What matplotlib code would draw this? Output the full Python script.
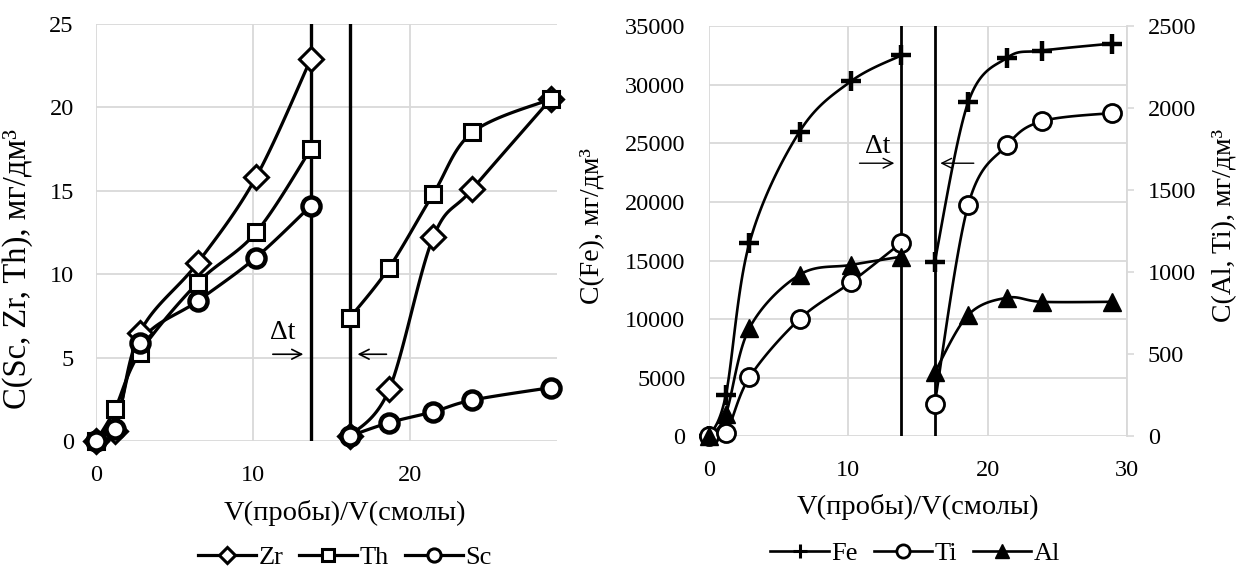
import numpy as np
import matplotlib.pyplot as plt
from matplotlib.lines import Line2D

plt.rcParams['font.family'] = ['Liberation Serif', 'DejaVu Serif']
plt.rcParams['font.size'] = 17.5

# ---- data (left panel) ----
v_left = [0, 1.2, 2.8, 6.5, 10.2, 13.7, 16.2, 18.7, 21.5, 24.0, 29.0]
zr = [0, 0.6, 6.5, 10.7, 15.8, 22.9, 0.3, 3.1, 12.2, 15.1, 20.5]
th = [0, 1.9, 5.3, 9.5, 12.5, 17.5, 7.4, 10.4, 14.8, 18.5, 20.5]
sc = [0, 0.7, 5.9, 8.4, 11.0, 14.1, 0.3, 1.1, 1.75, 2.45, 3.2]

# ---- data (right panel) ----
v_right = [0, 1.2, 2.9, 6.5, 10.2, 13.8, 16.2, 18.6, 21.4, 23.9, 28.9]
fe = [0, 3500, 16500, 26000, 30300, 32500, 14900, 28500, 32300, 32900, 33500]
ti = [0, 20, 360, 715, 940, 1180, 200, 1410, 1775, 1920, 1970]
al = [0, 135, 660, 985, 1045, 1095, 390, 740, 845, 820, 820]

breaks_left = [13.7, 16.2]
breaks_right = [13.8, 16.2]
SPLIT = 6   # first point of the second run

GRID = '#d9d9d9'
LABEL_FS = 20.5
LEG_FS = 19


def smooth(x, y, n=25):
    # excel-like smoothed line (catmull-rom through the points)
    p = np.column_stack([x, y]).astype(float)
    p = np.vstack([p[0], p, p[-1]])
    t = np.linspace(0, 1, n)[:, None]
    out = []
    for i in range(len(p) - 3):
        p0, p1, p2, p3 = p[i], p[i + 1], p[i + 2], p[i + 3]
        seg = 0.5 * (2 * p1 + (-p0 + p2) * t + (2 * p0 - 5 * p1 + 4 * p2 - p3) * t ** 2
                     + (-p0 + 3 * p1 - 3 * p2 + p3) * t ** 3)
        out.append(seg)
    out = np.vstack(out)
    return out[:, 0], out[:, 1]


def series(ax, x, y, lw, **mk):
    for a, b in ((0, SPLIT), (SPLIT, len(x))):
        sx, sy = smooth(x[a:b], y[a:b])
        ax.plot(sx, sy, color='k', lw=lw, zorder=3, clip_on=False)
    ax.plot(x, y, ls='none', zorder=4, clip_on=False, **mk)


def style(ax):
    for s in ax.spines.values():
        s.set_visible(False)
    ax.grid(True, color=GRID, lw=1.3)
    ax.set_axisbelow(True)
    ax.tick_params(axis='x', length=0, pad=17)
    ax.tick_params(axis='y', length=0, pad=16)


def handle(lw, mk, ms):
    d = dict(mk)
    d['ms'] = ms
    d['mew'] = min(d['mew'], 2.2)
    return Line2D([], [], color='k', lw=lw, **d)


fig = plt.figure(figsize=(12.37, 5.73), dpi=100)

# ---------------- left panel ----------------
ax1 = fig.add_axes([0.0776, 0.2304, 0.3727, 0.7277])
style(ax1)
ax1.set_xlim(0, 29.4)
ax1.set_ylim(0, 25)
ax1.set_xticks([0, 10, 20])
ax1.set_yticks([0, 5, 10, 15, 20, 25])

for b in breaks_left:
    ax1.axvline(b, color='k', lw=2.4, zorder=2)

mk_zr = dict(marker='D', ms=12, mfc='white', mec='k', mew=2.2)
mk_th = dict(marker='s', ms=11, mfc='white', mec='k', mew=2.2)
mk_sc = dict(marker='o', ms=13, mfc='white', mec='k', mew=3.2)
series(ax1, v_left, zr, 2.3, **mk_zr)
series(ax1, v_left, th, 2.3, **mk_th)
series(ax1, v_left, sc, 2.3, **mk_sc)

ax1.annotate('', xy=(13.4, 5.2), xytext=(11.1, 5.2),
             arrowprops=dict(arrowstyle='->', lw=1.2, color='k'))
ax1.annotate('', xy=(16.5, 5.2), xytext=(18.7, 5.2),
             arrowprops=dict(arrowstyle='->', lw=1.2, color='k'))
ax1.text(11.9, 6.5, 'Δt', ha='center', va='center', fontsize=20)

ax1.set_xlabel('V(пробы)/V(смолы)', fontsize=LABEL_FS)
ax1.xaxis.set_label_coords(0.54, -0.141)
ax1.set_ylabel('C(Sc, Zr, Th), мг/дм³', fontsize=23.5)
ax1.yaxis.set_label_coords(-0.137, 0.412)

h1 = [handle(2.3, mk_zr, 8), handle(2.3, mk_th, 9), handle(2.3, mk_sc, 9.5)]
ax1.legend(h1, ['Zr', 'Th', 'Sc'], loc='center', bbox_to_anchor=(0.54, -0.28),
           ncol=3, frameon=False, handlelength=2.2, handletextpad=0.1,
           columnspacing=0.6, numpoints=1, fontsize=LEG_FS)

# ---------------- right panel ----------------
ax2 = fig.add_axes([0.5732, 0.2383, 0.3379, 0.7163])
style(ax2)
ax2.set_xlim(0, 30)
ax2.set_ylim(0, 35000)
ax2.set_xticks([0, 10, 20, 30])
ax2.set_yticks(np.arange(0, 35001, 5000))
ax2.tick_params(axis='y', pad=17)

ax3 = ax2.twinx()
for s in ax3.spines.values():
    s.set_visible(False)
ax3.spines['right'].set_visible(True)
ax3.spines['right'].set_color(GRID)
ax3.spines['right'].set_linewidth(1.3)
ax3.set_ylim(0, 2500)
ax3.set_yticks(np.arange(0, 2501, 500))
ax3.tick_params(length=5, width=1.2, color=GRID, pad=10)

for b in breaks_right:
    ax2.axvline(b, color='k', lw=2.0, zorder=2)

mk_fe = dict(marker='+', ms=15, mfc='k', mec='k', mew=3.2)
mk_ti = dict(marker='o', ms=13, mfc='white', mec='k', mew=2.0)
mk_al = dict(marker='^', ms=13, mfc='k', mec='k', mew=1)
series(ax2, v_right, fe, 1.9, **mk_fe)
series(ax3, v_right, ti, 1.9, **mk_ti)
series(ax3, v_right, al, 1.9, **mk_al)

ax2.annotate('', xy=(13.5, 23300), xytext=(10.6, 23300),
             arrowprops=dict(arrowstyle='->', lw=1.0, color='k'))
ax2.annotate('', xy=(16.4, 23300), xytext=(19.2, 23300),
             arrowprops=dict(arrowstyle='->', lw=1.0, color='k'))
ax2.text(12.1, 24700, 'Δt', ha='center', va='center', fontsize=20)

ax2.set_xlabel('V(пробы)/V(смолы)', fontsize=LABEL_FS)
ax2.xaxis.set_label_coords(0.5, -0.141)
ax2.set_ylabel('C(Fe), мг/дм³', fontsize=20)
ax2.yaxis.set_label_coords(-0.249, 0.513)
ax3.set_ylabel('C(Al, Ti), мг/дм³', fontsize=20)
ax3.yaxis.set_label_coords(1.203, 0.513)

h2 = [handle(1.9, mk_fe, 10), handle(1.9, mk_ti, 9.5), handle(1.9, mk_al, 10)]
ax2.legend(h2, ['Fe', 'Ti', 'Al'], loc='center', bbox_to_anchor=(0.493, -0.285),
           ncol=3, frameon=False, handlelength=2.2, handletextpad=0.1,
           columnspacing=0.6, numpoints=1, fontsize=LEG_FS)

fig.savefig('out.png', dpi=100)
